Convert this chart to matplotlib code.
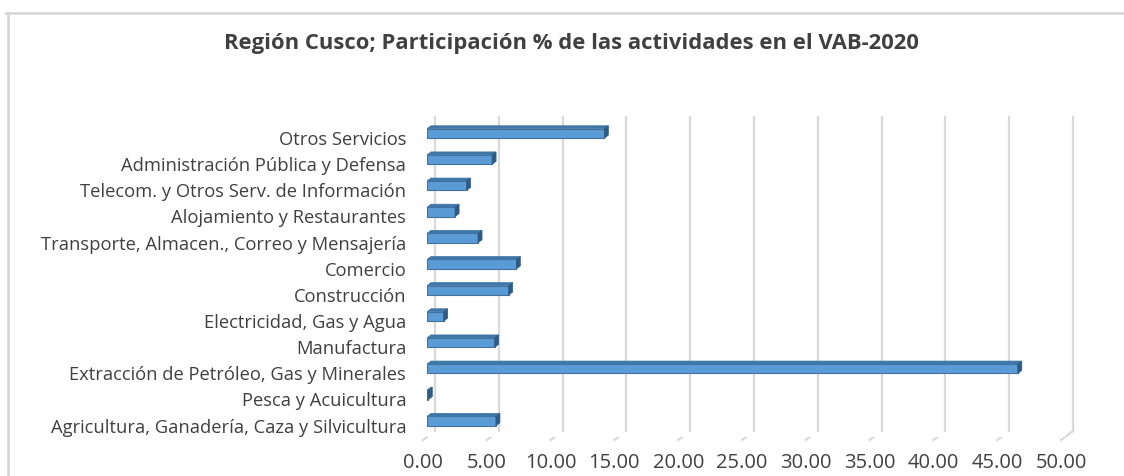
import matplotlib
matplotlib.use("Agg")
import matplotlib.pyplot as plt
from matplotlib.patches import Polygon
from matplotlib.lines import Line2D
import matplotlib.transforms as mtransforms

plt.rcParams['font.family'] = ['Open Sans', 'DejaVu Sans']

categories = [
    "Agricultura, Ganadería, Caza y Silvicultura",
    "Pesca y Acuicultura",
    "Extracción de Petróleo, Gas y Minerales",
    "Manufactura",
    "Electricidad, Gas y Agua",
    "Construcción",
    "Comercio",
    "Transporte, Almacen., Correo y Mensajería",
    "Alojamiento y Restaurantes",
    "Telecom. y Otros Serv. de Información",
    "Administración Pública y Defensa",
    "Otros Servicios",
]
values = [5.4, 0.1, 46.3, 5.3, 1.3, 6.4, 7.0, 4.0, 2.2, 3.1, 5.1, 13.9]
xticks = [0, 5, 10, 15, 20, 25, 30, 35, 40, 45, 50]
xticklabels = ["%.2f" % t for t in xticks]
title = "Región Cusco; Participación % de las actividades en el VAB-2020"

W, H = 1124, 477
DPI = 100
fig = plt.figure(figsize=(W / DPI, H / DPI), dpi=DPI)

# axes in pixel coords (front plane of bars)
x0, x1 = 427, 1065
ytop, ybot = 124, 438
ax = fig.add_axes([x0 / W, 1 - ybot / H, (x1 - x0) / W, (ybot - ytop) / H])
ax.set_xlim(0, 50)
ylo, yhi = -0.61, 11.40
ax.set_ylim(ylo, yhi)
for s in ax.spines.values():
    s.set_visible(False)
ax.tick_params(length=0)

def off(dx, dy):
    return ax.transData + mtransforms.ScaledTranslation(dx / DPI, dy / DPI, fig.dpi_scale_trans)

back = off(8, 6)
grid_c = "#d9d9d9"
for t in xticks:
    ax.add_line(Line2D([t, t], [ylo, yhi], transform=back, color=grid_c, lw=1.6,
                       clip_on=False, zorder=0))
    p_back = back.transform((t, ylo))
    p_front = off(-4, -3).transform((t, ylo))
    fig.add_artist(Line2D([p_back[0] / W, p_front[0] / W],
                          [p_back[1] / H, p_front[1] / H],
                          transform=fig.transFigure, color=grid_c, lw=1.6, zorder=0))

# bars
bh = 0.36
front_c = "#5b9bd5"
edge_c = "#41719c"
side_c = "#2e5a86"
top_c = "#3f76a8"
dx, dy = 4, 3
ys = list(range(len(categories)))
bars = ax.barh(ys, values, height=bh, color=front_c, edgecolor=edge_c, lw=0.8, zorder=3)
p0 = ax.transData.transform((0, 0))
p1 = ax.transData.inverted().transform((p0[0] + dx, p0[1] + dy))
ddx, ddy = p1[0], p1[1]
for y, v in zip(ys, values):
    side = Polygon([(v, y - bh / 2), (v + ddx, y - bh / 2 + ddy), (v + ddx, y + bh / 2 + ddy), (v, y + bh / 2)],
                   closed=True, facecolor=side_c, edgecolor=side_c, lw=0.5, zorder=4, clip_on=False)
    top = Polygon([(0, y + bh / 2), (ddx, y + bh / 2 + ddy), (v + ddx, y + bh / 2 + ddy), (v, y + bh / 2)],
                  closed=True, facecolor=top_c, edgecolor=top_c, lw=0.5, zorder=4, clip_on=False)
    ax.add_patch(top)
    ax.add_patch(side)

# y labels
ax.set_yticks(ys)
ax.set_yticklabels(categories, fontsize=13.2, color="#404040")
ax.tick_params(axis='y', pad=15)
for lab in ax.get_yticklabels():
    lab.set_transform(lab.get_transform() + mtransforms.ScaledTranslation(0, -3.5 / DPI, fig.dpi_scale_trans))

# x labels
ax.set_xticks(xticks)
ax.set_xticklabels(xticklabels, fontsize=14.5, color="#404040")
ax.tick_params(axis='x', pad=9)
for lab in ax.get_xticklabels():
    lab.set_transform(lab.get_transform() + mtransforms.ScaledTranslation(-4 / DPI, -3 / DPI, fig.dpi_scale_trans))

fig.text(571 / W, 1 - 43 / H, title, ha='center', va='center', fontsize=15.8,
         fontweight='bold', color="#404040")

# chart frame (top and left)
frame_c = "#d4d4d4"
fig.add_artist(Line2D([6 / W, 1], [1 - 14 / H, 1 - 14 / H], transform=fig.transFigure, color=frame_c, lw=1.8))
fig.add_artist(Line2D([8 / W, 8 / W], [0, 1 - 14 / H], transform=fig.transFigure, color=frame_c, lw=1.8))

fig.savefig("out.png", dpi=DPI)
